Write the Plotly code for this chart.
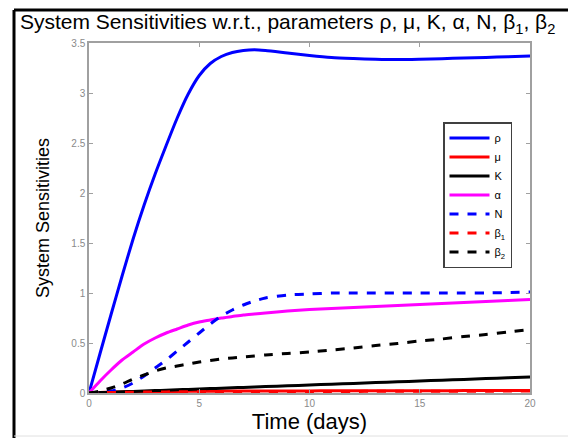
import plotly.graph_objects as go

t = [0, 0.5, 1, 1.5, 2, 2.5, 3, 3.5, 4, 4.5, 5, 5.5, 6, 6.5, 7, 7.5, 8, 9, 10, 11, 12, 13, 14, 15, 16, 17, 18, 19, 20]

rho = [0, 0.395, 0.785, 1.17, 1.54, 1.88, 2.19, 2.475, 2.75, 2.99, 3.175, 3.295, 3.365, 3.405, 3.425, 3.432, 3.425, 3.40, 3.375, 3.355, 3.345, 3.338, 3.335, 3.338, 3.343, 3.35, 3.356, 3.363, 3.37]
mu = [0, 0.005, 0.008, 0.01, 0.012, 0.013, 0.014, 0.015, 0.016, 0.017, 0.018, 0.018, 0.019, 0.019, 0.02, 0.02, 0.02, 0.021, 0.021, 0.022, 0.022, 0.022, 0.023, 0.023, 0.023, 0.024, 0.024, 0.024, 0.025]
K = [0, 0.004, 0.008, 0.012, 0.016, 0.02, 0.024, 0.028, 0.032, 0.036, 0.04, 0.044, 0.048, 0.052, 0.056, 0.06, 0.064, 0.072, 0.08, 0.088, 0.096, 0.104, 0.112, 0.12, 0.128, 0.136, 0.144, 0.152, 0.16]
alpha = [0, 0.12, 0.23, 0.33, 0.41, 0.49, 0.55, 0.60, 0.64, 0.68, 0.71, 0.73, 0.75, 0.765, 0.78, 0.79, 0.80, 0.82, 0.835, 0.845, 0.855, 0.865, 0.875, 0.885, 0.895, 0.905, 0.915, 0.925, 0.935]
N = [0, 0.005, 0.02, 0.05, 0.10, 0.17, 0.25, 0.33, 0.42, 0.51, 0.60, 0.69, 0.77, 0.83, 0.88, 0.92, 0.95, 0.98, 0.99, 1.0, 1.0, 1.0, 1.0, 1.0, 1.0, 1.0, 1.0, 1.005, 1.01]
beta1 = [0, 0.003, 0.005, 0.007, 0.008, 0.009, 0.01, 0.011, 0.012, 0.012, 0.013, 0.013, 0.014, 0.014, 0.014, 0.015, 0.015, 0.015, 0.016, 0.016, 0.016, 0.017, 0.017, 0.017, 0.018, 0.018, 0.018, 0.019, 0.019]
beta2 = [0, 0.02, 0.05, 0.09, 0.14, 0.18, 0.22, 0.25, 0.27, 0.29, 0.31, 0.325, 0.34, 0.35, 0.36, 0.37, 0.38, 0.395, 0.41, 0.43, 0.45, 0.475, 0.495, 0.52, 0.54, 0.565, 0.585, 0.61, 0.635]

names = ["ρ", "μ", "K", "α", "N", "β<sub>1</sub>", "β<sub>2</sub>"]
series = [rho, mu, K, alpha, N, beta1, beta2]
colors = ["#0000ff", "#ff0000", "#000000", "#ff00ff", "#0000ff", "#ff0000", "#000000"]
dashes = ["solid", "solid", "solid", "solid", "dash", "dash", "dash"]

x_ticks = [0, 5, 10, 15, 20]
y_ticks = [0, 0.5, 1, 1.5, 2, 2.5, 3, 3.5]

W, H = 568, 430
L, R, T, B = 81, 46, 35, 45
PW, PH = W - L - R, H - T - B

def px(xp):
    return (xp - L) / PW

def py(yp):
    return (H - B - yp) / PH

fig = go.Figure()
for nm, ys, c, d in zip(names, series, colors, dashes):
    fig.add_trace(go.Scatter(x=t, y=ys, mode="lines", name=nm,
                             line=dict(color=c, width=3, dash=d, shape="spline", smoothing=0.7)))

FONT = "Liberation Sans, Arial, Helvetica"
axis_common = dict(showgrid=False, zeroline=False, showline=True, linecolor="#a0a0a0",
                   linewidth=1.5, mirror="ticks", ticks="inside", ticklen=4,
                   tickcolor="#a0a0a0", tickfont=dict(family=FONT, size=10, color="#8a8a8a"))

fig.update_layout(
    width=W, height=H,
    margin=dict(l=L, r=R, t=T, b=B),
    paper_bgcolor="white", plot_bgcolor="white",
    title=dict(text="System Sensitivities w.r.t., parameters ρ, μ, K, α, N, β<sub>1</sub>, β<sub>2</sub>",
               x=12 / W, xanchor="left", y=1 - 14 / H, yanchor="middle",
               font=dict(family=FONT, size=21, color="black")),
    xaxis=dict(range=[0, 20], tickvals=x_ticks, ticktext=[str(v) for v in x_ticks],
               title=dict(text="Time (days)", font=dict(family=FONT, size=22, color="black"), standoff=0),
               **axis_common),
    yaxis=dict(range=[0, 3.5], tickvals=y_ticks, ticktext=["0", "0.5", "1", "1.5", "2", "2.5", "3", "3.5"],
               title=dict(text="System Sensitivities", font=dict(family=FONT, size=18, color="black"), standoff=17),
               **axis_common),
    legend=dict(x=px(435), y=py(114), xanchor="left", yanchor="top",
                bgcolor="white", bordercolor="#404040", borderwidth=1.5,
                font=dict(family=FONT, size=11, color="black"),
                itemwidth=40, tracegroupgap=0),
    showlegend=True,
)

# outer frame
fig.add_shape(type="line", xref="paper", yref="paper", x0=px(6), x1=px(6), y0=py(440), y1=py(2),
              line=dict(color="black", width=3))
fig.add_shape(type="line", xref="paper", yref="paper", x0=px(6), x1=px(600), y0=py(2), y1=py(2),
              line=dict(color="black", width=3))
fig.add_shape(type="line", xref="paper", yref="paper", x0=px(6), x1=px(600), y0=py(428), y1=py(428),
              line=dict(color="#e0e0e0", width=1))

fig.write_html("out.html")
